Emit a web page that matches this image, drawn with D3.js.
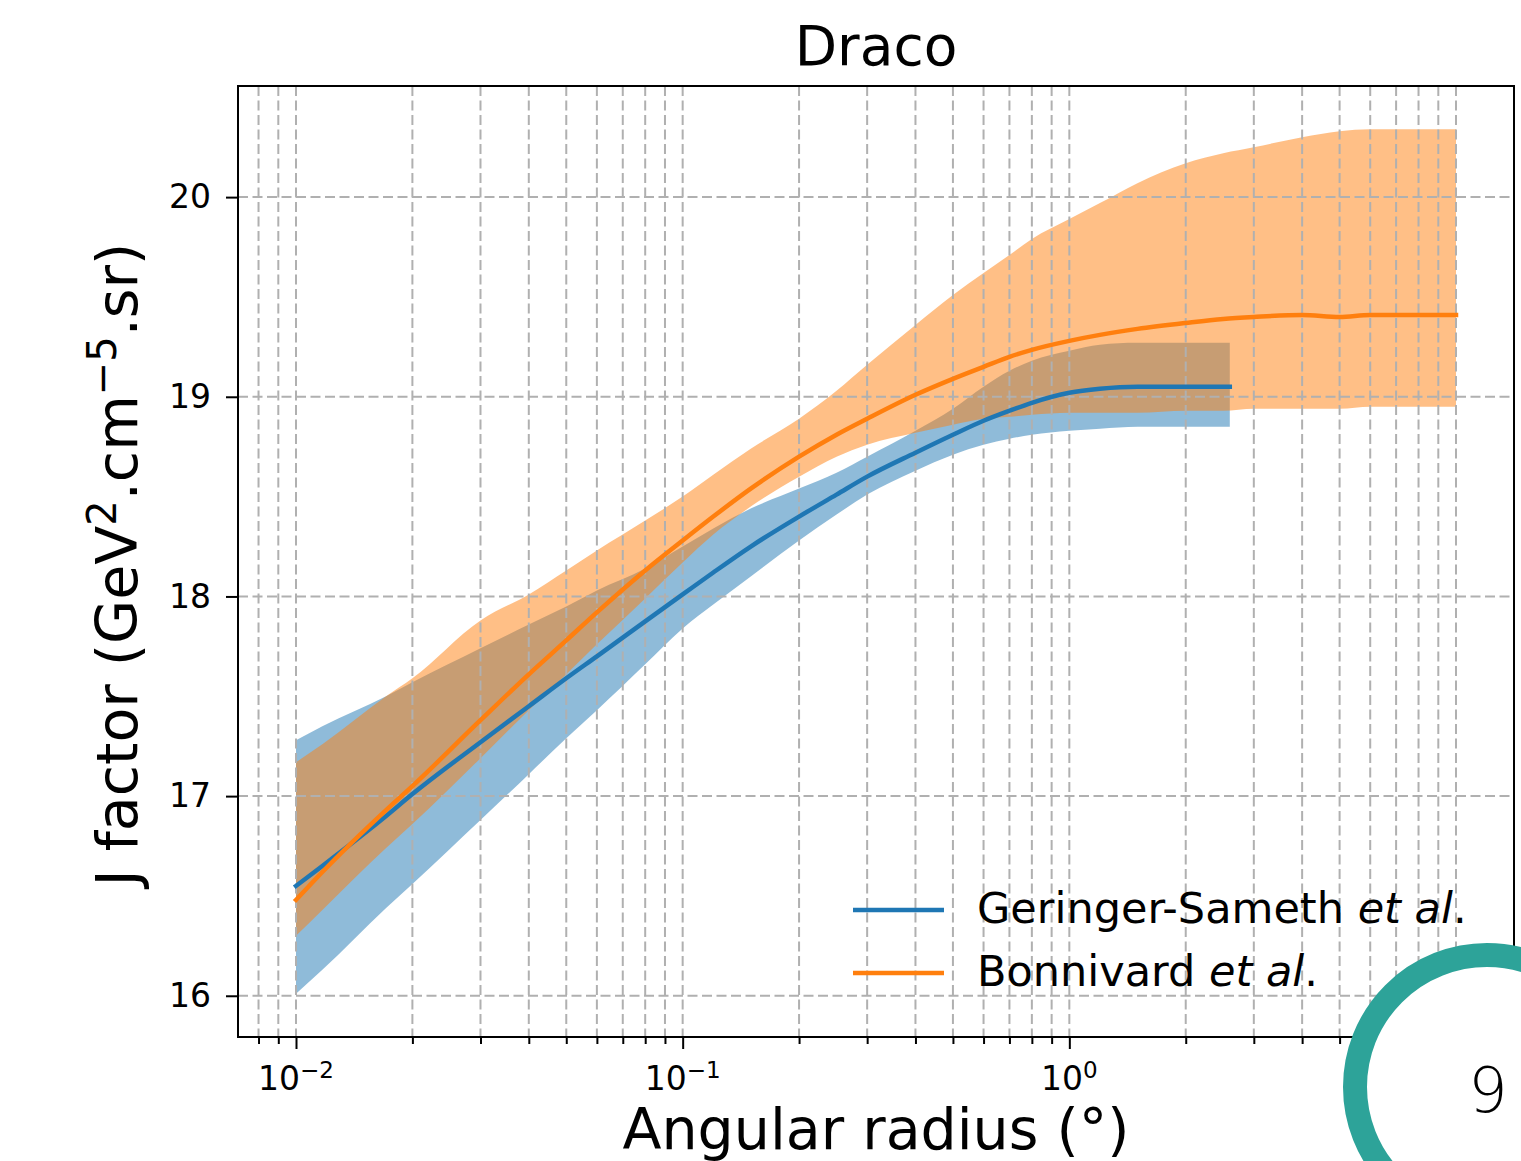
<!DOCTYPE html>
<html>
<head>
<meta charset="utf-8">
<script src="https://cdn.jsdelivr.net/npm/d3@7"></script>
<style>
  html, body { margin: 0; padding: 0; background: #ffffff; }
  svg { display: block; }
  text { font-family: "DejaVu Sans", sans-serif; fill: #000; }
</style>
</head>
<body>
<svg id="chart" width="1521" height="1161"></svg>
<script>
// ---------- data ----------
const radiusGS = [0.01, 0.0117, 0.0171, 0.02, 0.03, 0.04, 0.05, 0.06, 0.08, 0.1, 0.12, 0.15, 0.2, 0.25, 0.3, 0.4, 0.5, 0.6, 0.7, 0.8, 1.0, 1.2, 1.5, 2.0, 2.6];
const jGS      = [16.55,16.65,16.90,17.01,17.27,17.45,17.59,17.70,17.875,18.01,18.12,18.25,18.40,18.51,18.60,18.72,18.81,18.88,18.93,18.97,19.02,19.04,19.05,19.05,19.05];
const jGSUpper = [17.28,17.35,17.50,17.57,17.74,17.86,17.95,18.03,18.14,18.25,18.34,18.44,18.54,18.62,18.70,18.83,18.94,19.05,19.13,19.18,19.23,19.26,19.27,19.27,19.27];
const jGSLower = [16.01,16.13,16.44,16.56,16.88,17.11,17.29,17.43,17.66,17.84,17.96,18.10,18.28,18.41,18.51,18.63,18.71,18.76,18.79,18.81,18.83,18.84,18.85,18.85,18.85];

const radiusB = [0.01, 0.0117, 0.0171, 0.02, 0.03, 0.04, 0.05, 0.06, 0.08, 0.1, 0.12, 0.15, 0.2, 0.25, 0.3, 0.4, 0.5, 0.6, 0.7, 0.8, 1.0, 1.2, 1.5, 2, 2.5, 3, 4, 5, 6, 8, 10];
const jB      = [16.48,16.62,16.93,17.05,17.38,17.61,17.78,17.92,18.13,18.28,18.40,18.54,18.70,18.81,18.89,19.01,19.09,19.15,19.20,19.235,19.28,19.31,19.34,19.37,19.39,19.40,19.41,19.40,19.41,19.41,19.41];
const jBUpper = [17.17,17.26,17.50,17.59,17.88,18.01,18.13,18.23,18.38,18.50,18.61,18.74,18.89,19.03,19.16,19.36,19.51,19.62,19.71,19.79,19.89,19.97,20.07,20.17,20.22,20.25,20.30,20.33,20.34,20.34,20.34];
const jBLower = [16.30,16.43,16.74,16.86,17.19,17.43,17.61,17.76,17.99,18.17,18.31,18.45,18.60,18.70,18.76,18.82,18.86,18.89,18.90,18.91,18.92,18.92,18.92,18.93,18.93,18.94,18.94,18.94,18.95,18.95,18.95];

const seriesNames = ["Geringer-Sameth", "Bonnivard"];
const seriesColors = ["#1f77b4", "#ff7f0e"];
const xMajorExponents = [-2, -1, 0, 1];
const xLabelExponents = [-2, -1, 0];   // the 10^1 label is hidden under the page badge
const yTicks = [16, 17, 18, 19, 20];
const titleText = "Draco";
const xLabelText = "Angular radius (°)";
const badgeText = "9";

// ---------- layout ----------
const plot = { left: 238, top: 86, right: 1514, bottom: 1037 };
const svg = d3.select("#chart");

// domains with matplotlib-like 5% margins
const allX = radiusGS.concat(radiusB);
const lx = d3.extent(allX.map(Math.log10));
const px = (lx[1] - lx[0]) * 0.05;
const allY = jGSUpper.concat(jGSLower, jBUpper, jBLower, jGS, jB);
const ly = d3.extent(allY);
const py = (ly[1] - ly[0]) * 0.05;

const x = d3.scaleLog().domain([Math.pow(10, lx[0] - px), Math.pow(10, lx[1] + px)]).range([plot.left, plot.right]);
const y = d3.scaleLinear().domain([ly[0] - py, ly[1] + py]).range([plot.bottom, plot.top]);

const xMajors = xMajorExponents.map(e => Math.pow(10, e));
const xMinors = [];
for (let e = -3; e <= 1; e++) for (let k = 2; k <= 9; k++) {
  const v = k * Math.pow(10, e);
  if (v >= x.domain()[0] && v <= x.domain()[1]) xMinors.push(v);
}
const xAll = xMajors.concat(xMinors).filter(v => v >= x.domain()[0] && v <= x.domain()[1]);

svg.append("defs").append("clipPath").attr("id", "plotclip")
  .append("rect").attr("x", plot.left).attr("y", plot.top)
  .attr("width", plot.right - plot.left).attr("height", plot.bottom - plot.top);
const gPlot = svg.append("g").attr("clip-path", "url(#plotclip)");

// ---------- bands ----------
function band(xs, lo, hi) {
  const d = xs.map((v, i) => ({ x: v, lo: lo[i], hi: hi[i] }));
  return d3.area().curve(d3.curveMonotoneX).x(p => x(p.x)).y0(p => y(p.lo)).y1(p => y(p.hi))(d);
}
gPlot.append("path").attr("d", band(radiusGS, jGSLower, jGSUpper))
  .attr("fill", seriesColors[0]).attr("fill-opacity", 0.5);
gPlot.append("path").attr("d", band(radiusB, jBLower, jBUpper))
  .attr("fill", seriesColors[1]).attr("fill-opacity", 0.5);

// ---------- grid ----------
const gridColor = "#b0b0b0";
const gGrid = gPlot.append("g");
gGrid.selectAll("line.vx").data(xAll).enter().append("line")
  .attr("x1", d => x(d)).attr("x2", d => x(d))
  .attr("y1", plot.top).attr("y2", plot.bottom)
  .attr("stroke", gridColor).attr("stroke-width", 2).attr("stroke-dasharray", "10,4.5");
gGrid.selectAll("line.hy").data(yTicks).enter().append("line")
  .attr("y1", d => y(d)).attr("y2", d => y(d))
  .attr("x1", plot.left).attr("x2", plot.right)
  .attr("stroke", gridColor).attr("stroke-width", 2).attr("stroke-dasharray", "10,4.5");

// ---------- lines ----------
function line(xs, ys) {
  return d3.line().curve(d3.curveMonotoneX).x(v => x(v)).y((v, i) => y(ys[i]))(xs);
}
svg.append("path").attr("d", line(radiusGS, jGS))
  .attr("fill", "none").attr("stroke", seriesColors[0]).attr("stroke-width", 4.5).attr("stroke-linecap", "square");
svg.append("path").attr("d", line(radiusB, jB))
  .attr("fill", "none").attr("stroke", seriesColors[1]).attr("stroke-width", 4.5).attr("stroke-linecap", "square");

// ---------- axes ----------
const xAxisMajor = d3.axisBottom(x).tickValues(xMajors).tickSize(12).tickSizeOuter(0).tickFormat("");
const xAxisMinor = d3.axisBottom(x).tickValues(xMinors).tickSize(7).tickSizeOuter(0).tickFormat("");
const gx = svg.append("g").attr("transform", `translate(0,${plot.bottom})`).call(xAxisMajor);
const gxm = svg.append("g").attr("transform", `translate(0,${plot.bottom})`).call(xAxisMinor);
[gx, gxm].forEach(g => {
  g.select(".domain").remove();
  g.selectAll(".tick line").attr("stroke", "#000").attr("stroke-width", 2);
});

const xLab = svg.append("g");
xLabelExponents.forEach(e => {
  const xp = x(Math.pow(10, e));
  const t = xLab.append("text").attr("x", xp).attr("y", 1090)
    .attr("text-anchor", "middle").attr("font-size", 33);
  t.append("tspan").text("10");
  t.append("tspan").attr("dy", -12).attr("font-size", 23).text(e < 0 ? "\u2212" + Math.abs(e) : String(e));
});

const yAxis = d3.axisLeft(y).tickValues(yTicks).tickSize(12).tickSizeOuter(0).tickPadding(15).tickFormat(d3.format("d"));
const gy = svg.append("g").attr("transform", `translate(${plot.left},0)`).call(yAxis);
gy.select(".domain").remove();
gy.selectAll(".tick line").attr("stroke", "#000").attr("stroke-width", 2);
gy.selectAll(".tick text").attr("font-size", 33).attr("font-family", "DejaVu Sans").attr("fill", "#000");

svg.append("rect").attr("x", plot.left).attr("y", plot.top)
  .attr("width", plot.right - plot.left).attr("height", plot.bottom - plot.top)
  .attr("fill", "none").attr("stroke", "#000").attr("stroke-width", 2);

// ---------- titles ----------
svg.append("text").attr("x", (plot.left + plot.right) / 2).attr("y", 65)
  .attr("text-anchor", "middle").attr("font-size", 55).text(titleText);

svg.append("text").attr("x", (plot.left + plot.right) / 2).attr("y", 1149)
  .attr("text-anchor", "middle").attr("font-size", 57).text(xLabelText);

const yl = svg.append("text").attr("transform", `translate(137,${(plot.top + plot.bottom) / 2 + 3}) rotate(-90)`)
  .attr("text-anchor", "middle").attr("font-size", 57);
yl.append("tspan").text("J factor (GeV");
yl.append("tspan").attr("dy", -21).attr("font-size", 40).text("2");
yl.append("tspan").attr("dy", 21).text(".cm");
yl.append("tspan").attr("dy", -21).attr("font-size", 40).text("\u22125");
yl.append("tspan").attr("dy", 21).text(".sr)");

// ---------- legend ----------
const legend = svg.append("g");
const legendRows = [
  { name: seriesNames[0], color: seriesColors[0], ly: 910, ty: 923 },
  { name: seriesNames[1], color: seriesColors[1], ly: 973, ty: 986 }
];
legendRows.forEach(r => {
  legend.append("line").attr("x1", 853).attr("x2", 944).attr("y1", r.ly).attr("y2", r.ly)
    .attr("stroke", r.color).attr("stroke-width", 4.5);
  const t = legend.append("text").attr("x", 977).attr("y", r.ty).attr("font-size", 43);
  t.append("tspan").text(r.name + " ");
  t.append("tspan").attr("font-style", "italic").text("et al");
  t.append("tspan").text(".");
});

// ---------- page badge ----------
svg.append("circle").attr("cx", 1487).attr("cy", 1087).attr("r", 132)
  .attr("fill", "#ffffff").attr("stroke", "#2da399").attr("stroke-width", 24);
svg.append("text").attr("x", 1488).attr("y", 1112).attr("text-anchor", "middle")
  .attr("font-size", 62).attr("font-family", "Roboto, sans-serif").attr("font-weight", 300)
  .attr("fill", "#222").text(badgeText);
</script>
</body>
</html>
